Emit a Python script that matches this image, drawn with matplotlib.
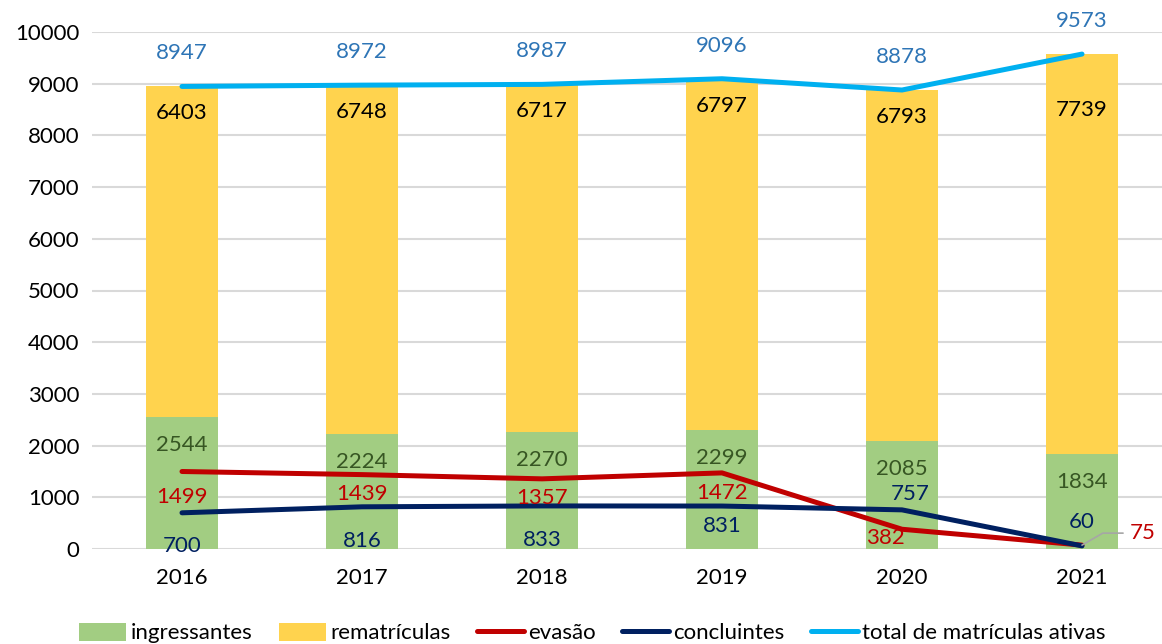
import matplotlib
matplotlib.use("Agg")
import matplotlib.pyplot as plt
import numpy as np

years = ["2016", "2017", "2018", "2019", "2020", "2021"]
ingressantes = [2544, 2224, 2270, 2299, 2085, 1834]
rematriculas = [6403, 6748, 6717, 6797, 6793, 7739]
evasao = [1499, 1439, 1357, 1472, 382, 75]
concluintes = [700, 816, 833, 831, 757, 60]
total = [8947, 8972, 8987, 9096, 8878, 9573]

plt.rcParams['font.family'] = ['Lato', 'DejaVu Sans']
FS = 16
LFS = 16

C_GREEN = "#A2CD82"
C_YELLOW = "#FFD34E"
C_RED = "#C00000"
C_NAVY = "#002060"
C_BLUE = "#00B0F0"
L_BLUE = "#2E75B6"
L_GREEN = "#375623"

fig = plt.figure(figsize=(11.62, 6.44), dpi=100)
ax = fig.add_axes([92/1162, 95/644, 1080/1162, 517/644])

x = np.arange(len(years))
w = 0.4
b1 = ax.bar(x, ingressantes, w, color=C_GREEN, label="ingressantes", zorder=2)
b2 = ax.bar(x, rematriculas, w, bottom=ingressantes, color=C_YELLOW, label="rematrículas", zorder=2)
l1, = ax.plot(x, evasao, color=C_RED, lw=3.6, label="evasão", zorder=3, solid_capstyle='round')
l2, = ax.plot(x, concluintes, color=C_NAVY, lw=3.6, label="concluintes", zorder=4, solid_capstyle='round')
l3, = ax.plot(x, total, color=C_BLUE, lw=3.6, label="total de matrículas ativas", zorder=3, solid_capstyle='round')

ax.set_xlim(-0.5, 5.5)
ax.set_ylim(0, 10000)
ax.set_yticks(np.arange(0, 10001, 1000))
ax.set_xticks(x)
ax.set_xticklabels(years)
ax.tick_params(length=0, labelsize=FS, pad=9)
ax.tick_params(axis='x', pad=14)
for s in ax.spines.values():
    s.set_visible(False)
ax.grid(axis='y', color="#D9D9D9", lw=1.5, zorder=0)
ax.set_axisbelow(True)

def lab(xi, yi, txt, color, dx, dy):
    ax.annotate(txt, (xi, yi), xytext=(dx, dy), textcoords='offset pixels',
                ha='center', va='center', fontsize=FS, color=color,
                annotation_clip=False, zorder=6)

for i in range(len(years)):
    lab(x[i], total[i], str(total[i]), L_BLUE, 0, 33)

rem_dy = [-27, -27, -27, -27, -27, -56]
for i in range(len(years)):
    lab(x[i], total[i], str(rematriculas[i]), "black", 0, rem_dy[i])

for i in range(len(years)):
    lab(x[i], ingressantes[i], str(ingressantes[i]), L_GREEN, 0, -28)

ev_off = [(0, -25), (0, -19), (0, -19), (0, -20), (-17, -9)]
for i, (dx, dy) in enumerate(ev_off):
    lab(x[i], evasao[i], str(evasao[i]), C_RED, dx, dy)
# 2021 evasao with leader line
ax.annotate(str(evasao[5]), (x[5], evasao[5]), xytext=(48, 12), textcoords='offset pixels',
            ha='left', va='center', fontsize=FS, color=C_RED, annotation_clip=False, zorder=6,
            arrowprops=dict(arrowstyle='-', color="#A6A6A6", lw=1.2,
                            connectionstyle="angle,angleA=0,angleB=30,rad=0",
                            shrinkA=3, shrinkB=0))

con_off = [(0, -33), (0, -34), (0, -34), (0, -20), (8, 16), (0, 24)]
for i, (dx, dy) in enumerate(con_off):
    lab(x[i], concluintes[i], str(concluintes[i]), C_NAVY, dx, dy)

fig.legend([b1, b2, l1, l2, l3],
           ["ingressantes", "rematrículas", "evasão", "concluintes", "total de matrículas ativas"],
           loc='center', bbox_to_anchor=(0.51, 11/644), ncol=5, frameon=False,
           fontsize=LFS, handlelength=2.1, handleheight=0.9, handletextpad=0.2,
           columnspacing=1.2, borderaxespad=0)

fig.savefig("out.png", dpi=100)
